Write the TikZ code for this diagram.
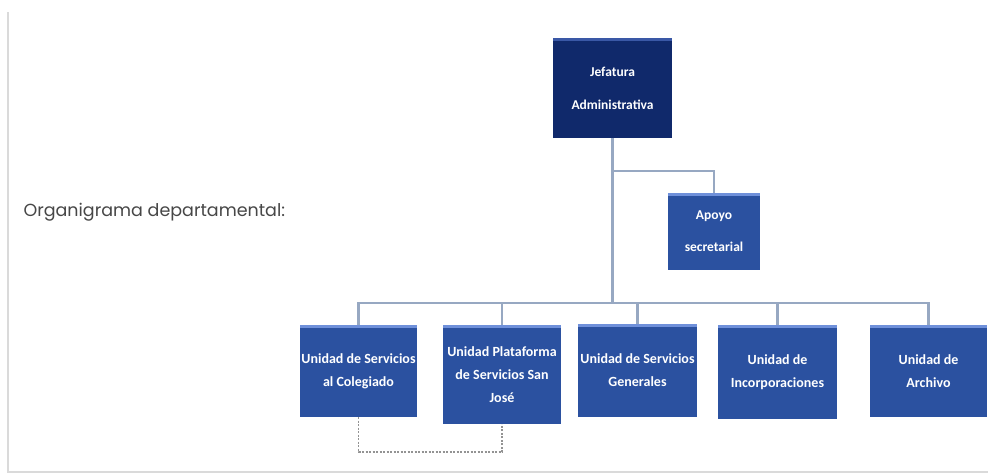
\documentclass[tikz,border=0pt]{standalone}
\usepackage{fontspec}
\setmainfont{Carlito}
\newfontfamily\titlefont{Poppins}
\definecolor{navy}{HTML}{10296B}
\definecolor{navystripe}{HTML}{3A58A6}
\definecolor{unitblue}{HTML}{2B51A0}
\definecolor{unitstripe}{HTML}{6F90DA}
\definecolor{connc}{HTML}{97A8C2}
\definecolor{framec}{HTML}{DADADA}
\definecolor{titlec}{HTML}{474747}
\tikzset{
  box/.style={rectangle, inner sep=0pt, text=white, align=center,
    font=\bfseries\fontsize{14}{23}\selectfont},
  topbox/.style={box, fill=navy,
    path picture={\fill[navystripe] (path picture bounding box.north west) rectangle ([yshift=-3pt]path picture bounding box.north east);}},
  unitbox/.style={box, fill=unitblue,
    path picture={\fill[unitstripe] (path picture bounding box.north west) rectangle ([yshift=-3pt]path picture bounding box.north east);}},
  conn/.style={draw=connc, line width=2.2pt},
  dashconn/.style={draw=gray!85, line width=1.8pt, dash pattern=on 2.2pt off 1.3pt},
}
\begin{document}
\begin{tikzpicture}[x=1pt,y=-1pt]
\useasboundingbox (0,0) rectangle (988,474);
\fill[white] (0,0) rectangle (988,474);
\draw[framec, line width=1.5pt] (8,12) -- (8,472) -- (988,472);

\node[anchor=west, text=titlec, font=\titlefont\fontsize{17.5}{20}\selectfont] (title) at (20,212) {Organigrama departamental:};

\node[topbox, minimum width=119pt, minimum height=100pt, font=\bfseries\fontsize{13.5}{33}\selectfont] (top) at (612.5,88) {Jefatura\\Administrativa};
\node[unitbox, minimum width=92pt, minimum height=77pt, font=\bfseries\fontsize{13.5}{32}\selectfont] (apoyo) at (714,231.5) {Apoyo\\secretarial};

\node[unitbox, minimum width=117pt, minimum height=92pt] (b1) at (358.5,371) {Unidad de Servicios\\al Colegiado};
\node[unitbox, minimum width=118pt, minimum height=99pt] (b2) at (502,374.5) {Unidad Plataforma\\de Servicios San\\José};
\node[unitbox, minimum width=119pt, minimum height=93pt] (b3) at (637.5,370.5) {Unidad de Servicios\\Generales};
\node[unitbox, minimum width=119pt, minimum height=94pt] (b4) at (777.5,372) {Unidad de\\Incorporaciones};
\node[unitbox, minimum width=117pt, minimum height=92pt] (b5) at (928.5,371) {Unidad de\\Archivo};

\coordinate (bus) at (612.5,303);
\coordinate (ap) at (612.5,171);

\draw[conn] (top.south) -- (bus);
\draw[conn] (ap) -| (apoyo.north);
\draw[conn] (b1.north) -- (b1.north |- bus) -- (b5.north |- bus) -- (b5.north);
\draw[conn] (b2.north) -- (b2.north |- bus);
\draw[conn] (b3.north) -- (b3.north |- bus);
\draw[conn] (b4.north) -- (b4.north |- bus);

\draw[dashconn] (b1.south) -- ++(0,35) -| (b2.south);
\end{tikzpicture}
\end{document}
